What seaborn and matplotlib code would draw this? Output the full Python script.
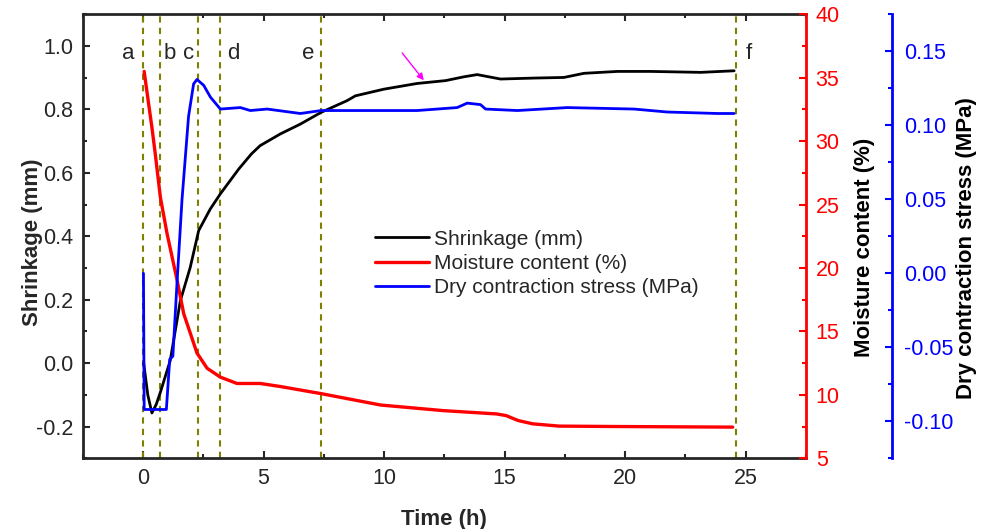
import matplotlib
matplotlib.use("Agg")
import matplotlib.pyplot as plt
import seaborn as sns
import pandas as pd
from matplotlib.ticker import MultipleLocator, FormatStrFormatter

# values
time_shrink = [0.03, 0.2, 0.37, 0.55, 0.72, 1.13, 1.55, 1.96, 2.31, 2.79, 3.21, 3.97,
               4.5, 4.86, 5.7, 6.53, 7.39, 8.47, 8.81, 9.99, 11.37, 12.55, 13.31,
               13.86, 14.83, 16.21, 17.46, 18.29, 19.68, 21.06, 23.13, 24.52]
shrinkage = [0.0, -0.10, -0.157, -0.13, -0.092, 0.008, 0.197, 0.302, 0.418, 0.486,
             0.534, 0.612, 0.66, 0.686, 0.723, 0.754, 0.791, 0.828, 0.843, 0.864,
             0.882, 0.891, 0.903, 0.910, 0.896, 0.899, 0.901, 0.914, 0.920, 0.920,
             0.917, 0.922]

time_moist = [0.05, 0.23, 0.37, 0.51, 0.72, 1.0, 1.41, 1.69, 2.24, 2.66, 3.21, 3.9,
              4.87, 5.7, 7.39, 9.86, 12.46, 14.66, 15.06, 15.56, 16.16, 17.26,
              19.46, 24.46]
moisture = [35.5, 33.0, 31.1, 29.0, 25.6, 22.7, 19.1, 16.4, 13.3, 12.1, 11.4, 10.9,
            10.9, 10.66, 10.1, 9.2, 8.76, 8.5, 8.37, 7.98, 7.72, 7.54, 7.51, 7.46]

time_stress = [0.02, 0.05, 0.97, 1.11, 1.18, 1.24, 1.41, 1.62, 1.89, 2.1, 2.24, 2.52,
               2.8, 3.21, 4.04, 4.45, 5.15, 6.53, 7.39, 9.0, 11.37, 13.03, 13.45,
               14.0, 14.21, 15.53, 17.6, 20.37, 21.75, 23.83, 24.52]
stress = [0.0, -0.092, -0.092, -0.058, -0.057, -0.056, -0.007, 0.05, 0.106, 0.128,
          0.131, 0.127, 0.119, 0.111, 0.112, 0.110, 0.111, 0.108, 0.110, 0.110,
          0.110, 0.112, 0.115, 0.114, 0.111, 0.110, 0.112, 0.111, 0.109, 0.108, 0.108]

stage_times = [0.0, 0.72, 2.28, 3.2, 7.4, 24.6]
stage_labels = ["a", "b", "c", "d", "e", "f"]
stage_label_x = [-0.6, 1.13, 1.88, 3.75, 6.86, 25.13]

df_s = pd.DataFrame({"t": time_shrink, "v": shrinkage})
df_m = pd.DataFrame({"t": time_moist, "v": moisture})
df_d = pd.DataFrame({"t": time_stress, "v": stress})

sns.set_theme(style="ticks")
plt.rcParams["font.family"] = ["Liberation Sans", "DejaVu Sans"]
plt.rcParams["axes.unicode_minus"] = False
plt.rcParams["xtick.direction"] = "in"
plt.rcParams["ytick.direction"] = "in"

fig = plt.figure(figsize=(9.81, 5.29), dpi=100)
ax = fig.add_axes([0.0843, 0.1336, 0.7373, 0.8393])
ax2 = ax.twinx()
ax3 = ax.twinx()
ax3.spines["right"].set_position(("axes", 1.1193))

# stage boundaries
for t in stage_times:
    ax.axvline(t, color="#808000", ls=(0, (3, 2.5)), lw=1.5, zorder=1)
for x, lab in zip(stage_label_x, stage_labels):
    ax.text(x, 0.958, lab, fontsize=16, ha="center", va="baseline")

sns.lineplot(data=df_s, x="t", y="v", ax=ax, color="black", lw=2,
             sort=False, estimator=None)
sns.lineplot(data=df_m, x="t", y="v", ax=ax2, color="#ff0000", lw=2.4,
             sort=False, estimator=None)
sns.lineplot(data=df_d, x="t", y="v", ax=ax3, color="#0000ff", lw=2,
             sort=False, estimator=None)
h_s, h_m, h_d = ax.lines[-1], ax2.lines[-1], ax3.lines[-1]

ax.annotate("", xy=(11.72, 0.885), xytext=(10.68, 0.985),
            arrowprops=dict(arrowstyle="-|>", color="#ff00ff", lw=1, mutation_scale=10))

# main axis
ax.set_xlim(-2.5, 27.5)
ax.set_ylim(-0.3, 1.1)
ax.xaxis.set_major_locator(MultipleLocator(5))
ax.xaxis.set_minor_locator(MultipleLocator(2.5))
ax.yaxis.set_major_locator(MultipleLocator(0.2))
ax.yaxis.set_minor_locator(MultipleLocator(0.1))
ax.yaxis.set_major_formatter(FormatStrFormatter("%.1f"))
ax.tick_params(which="both", top=True, width=1.5, labelsize=15.5, pad=7)
ax.tick_params(which="major", length=5)
ax.tick_params(which="minor", length=3)
for s in ["left", "bottom", "top"]:
    ax.spines[s].set_linewidth(2)
ax.spines["right"].set_visible(False)
ax.set_xlabel("Time (h)", fontsize=16, fontweight="bold")
ax.set_ylabel("Shrinkage (mm)", fontsize=16, fontweight="bold")
ax.xaxis.set_label_coords(0.5, -0.114)
ax.yaxis.set_label_coords(-0.055, 0.487)

# moisture axis
ax2.set_ylim(5, 40)
ax2.yaxis.set_major_locator(MultipleLocator(5))
ax2.yaxis.set_minor_locator(MultipleLocator(2.5))
ax2.tick_params(axis="y", which="both", colors="#ff0000", width=1.5, labelsize=15.5, pad=7)
ax2.tick_params(axis="y", which="major", length=5)
ax2.tick_params(axis="y", which="minor", length=3)
for s in ["left", "top", "bottom"]:
    ax2.spines[s].set_visible(False)
ax2.spines["right"].set_color("#ff0000")
ax2.spines["right"].set_linewidth(2)
ax2.set_ylabel("Moisture content (%)", fontsize=16, fontweight="bold", color="black")
ax2.yaxis.set_label_coords(1.0665, 0.475)

# stress axis
ax3.set_ylim(-0.125, 0.175)
ax3.yaxis.set_major_locator(MultipleLocator(0.05))
ax3.yaxis.set_minor_locator(MultipleLocator(0.025))
ax3.yaxis.set_major_formatter(FormatStrFormatter("%.2f"))
ax3.tick_params(axis="y", which="both", colors="#0000ff", width=1.5, labelsize=15.5, pad=8.5)
ax3.tick_params(axis="y", which="major", length=5)
ax3.tick_params(axis="y", which="minor", length=3)
for s in ["left", "top", "bottom"]:
    ax3.spines[s].set_visible(False)
ax3.spines["right"].set_color("#0000ff")
ax3.spines["right"].set_linewidth(2)
ax3.set_ylabel("Dry contraction stress (MPa)", fontsize=16, fontweight="bold", color="black")
ax3.yaxis.set_label_coords(1.2075, 0.474)

ax3.legend([h_s, h_m, h_d],
           ["Shrinkage (mm)", "Moisture content (%)", "Dry contraction stress (MPa)"],
           loc="upper left", bbox_to_anchor=(0.378, 0.557), frameon=False,
           fontsize=15, handlelength=2.6, handletextpad=0.25, labelspacing=0.25)

fig.savefig("out.png", dpi=100)
